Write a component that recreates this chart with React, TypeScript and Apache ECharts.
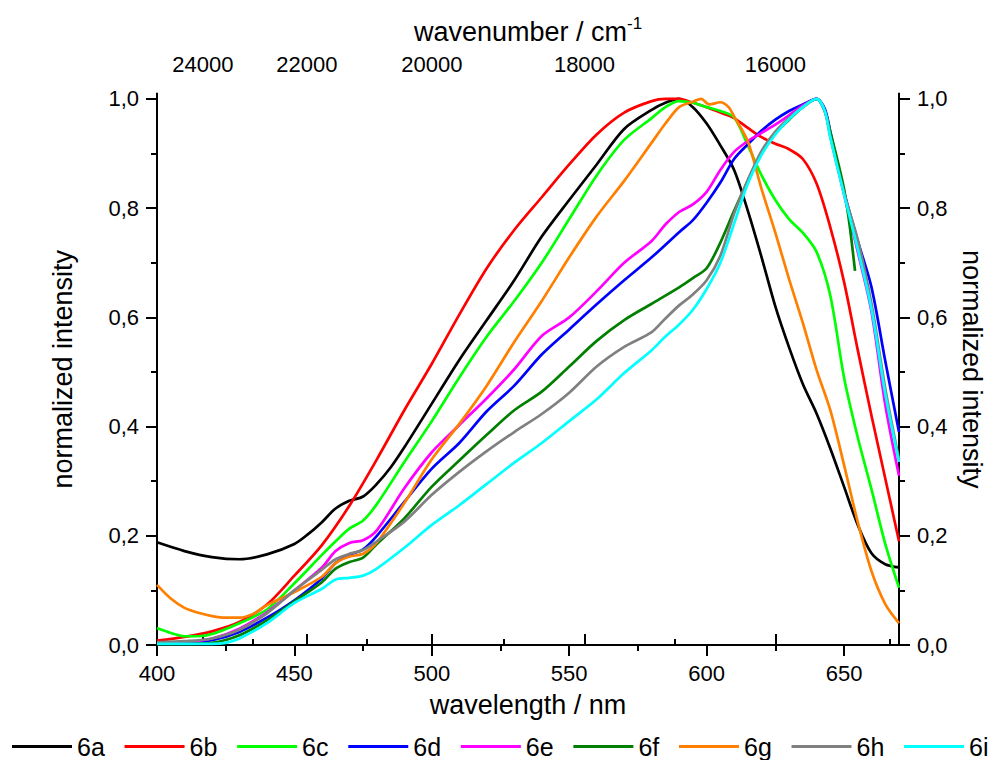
import React, { useEffect, useRef } from "react";
import * as echarts from "echarts";

// ---- data (wavelength in nm, normalized intensity) ----
const names = ["6a", "6b", "6c", "6d", "6e", "6f", "6g", "6h", "6i"];
const colors = ["#000000", "#ff0000", "#00ff00", "#0000ff", "#ff00ff", "#007f00", "#ff8000", "#808080", "#00ffff"];

const x6a = [400, 410, 420, 430, 440, 450, 455, 460, 465, 470, 475, 480, 485, 490, 500, 510, 520, 530, 540, 550, 560, 570, 580, 585, 590, 595, 600, 605, 610, 615, 620, 625, 630, 635, 640, 645, 650, 655, 660, 665, 670];
const y6a = [0.188, 0.172, 0.161, 0.157, 0.166, 0.185, 0.203, 0.225, 0.25, 0.264, 0.272, 0.295, 0.325, 0.362, 0.442, 0.522, 0.595, 0.668, 0.748, 0.815, 0.88, 0.945, 0.98, 0.993, 1.0, 0.985, 0.955, 0.915, 0.87, 0.795, 0.71, 0.62, 0.545, 0.478, 0.424, 0.36, 0.29, 0.22, 0.168, 0.148, 0.142];

const x6b = [400, 410, 420, 430, 440, 450, 460, 470, 480, 490, 500, 510, 520, 530, 540, 550, 560, 570, 580, 585, 590, 595, 600, 605, 610, 615, 620, 625, 630, 635, 640, 645, 650, 655, 660, 665, 670];
const y6b = [0.008, 0.015, 0.025, 0.042, 0.074, 0.127, 0.183, 0.255, 0.34, 0.43, 0.515, 0.605, 0.69, 0.76, 0.82, 0.88, 0.935, 0.975, 0.996, 1.0, 1.0, 0.993, 0.985, 0.975, 0.965, 0.947, 0.93, 0.918, 0.908, 0.89, 0.845, 0.765, 0.665, 0.54, 0.42, 0.305, 0.19];

const x6c = [400, 405, 410, 415, 420, 430, 440, 450, 460, 465, 470, 475, 480, 490, 500, 510, 520, 530, 540, 550, 560, 570, 580, 585, 590, 595, 600, 605, 610, 615, 620, 625, 630, 635, 640, 645, 650, 655, 660, 665, 670];
const y6c = [0.031, 0.022, 0.016, 0.016, 0.02, 0.04, 0.065, 0.113, 0.165, 0.19, 0.213, 0.228, 0.258, 0.335, 0.41, 0.49, 0.565, 0.63, 0.7, 0.78, 0.86, 0.925, 0.965, 0.985, 0.996, 0.993, 0.985, 0.978, 0.966, 0.915, 0.86, 0.815, 0.78, 0.755, 0.72, 0.64, 0.49, 0.38, 0.285, 0.185, 0.105];

const x6d = [400, 410, 420, 430, 440, 450, 460, 465, 470, 475, 480, 490, 500, 510, 520, 530, 540, 550, 560, 570, 580, 590, 595, 600, 605, 610, 615, 620, 625, 630, 635, 640, 643, 645, 650, 655, 660, 665, 670];
const y6d = [0.004, 0.005, 0.009, 0.024, 0.05, 0.082, 0.122, 0.15, 0.165, 0.175, 0.2, 0.262, 0.323, 0.37, 0.428, 0.475, 0.532, 0.578, 0.624, 0.668, 0.71, 0.756, 0.778, 0.81, 0.847, 0.89, 0.917, 0.942, 0.962, 0.978, 0.99, 1.0, 0.982, 0.94, 0.83, 0.74, 0.655, 0.52, 0.39];

const x6e = [400, 410, 420, 430, 440, 450, 460, 465, 470, 475, 480, 490, 500, 510, 520, 530, 540, 550, 560, 570, 580, 585, 590, 595, 600, 605, 610, 615, 620, 625, 630, 635, 640, 643, 645, 650, 655, 660, 665, 670];
const y6e = [0.003, 0.005, 0.012, 0.03, 0.06, 0.1, 0.142, 0.172, 0.187, 0.192, 0.21, 0.287, 0.353, 0.403, 0.452, 0.505, 0.566, 0.6, 0.648, 0.7, 0.74, 0.77, 0.793, 0.807, 0.83, 0.87, 0.903, 0.923, 0.938, 0.953, 0.97, 0.988, 1.0, 0.977, 0.935, 0.825, 0.72, 0.61, 0.44, 0.31];

const x6f = [400, 410, 420, 430, 440, 450, 460, 465, 470, 475, 480, 490, 500, 510, 520, 530, 540, 550, 560, 570, 580, 590, 595, 600, 605, 610, 615, 620, 625, 630, 635, 640, 643, 645, 648, 650, 652, 654];
const y6f = [0.002, 0.002, 0.004, 0.018, 0.045, 0.08, 0.115, 0.14, 0.152, 0.16, 0.185, 0.232, 0.29, 0.338, 0.385, 0.43, 0.464, 0.51, 0.557, 0.595, 0.625, 0.655, 0.672, 0.69, 0.737, 0.795, 0.85, 0.9, 0.937, 0.962, 0.985, 1.0, 0.978, 0.94, 0.88, 0.835, 0.77, 0.685];

const x6g = [400, 405, 410, 415, 420, 425, 430, 435, 440, 450, 460, 465, 470, 475, 480, 490, 500, 510, 520, 530, 540, 550, 560, 570, 580, 585, 590, 595, 598, 601, 605, 608, 610, 615, 620, 625, 630, 635, 640, 645, 650, 655, 660, 665, 670];
const y6g = [0.11, 0.085, 0.068, 0.059, 0.053, 0.05, 0.05, 0.057, 0.073, 0.097, 0.125, 0.15, 0.162, 0.167, 0.188, 0.26, 0.34, 0.405, 0.475, 0.555, 0.63, 0.71, 0.785, 0.85, 0.92, 0.955, 0.985, 0.995, 1.0, 0.99, 0.994, 0.985, 0.968, 0.922, 0.835, 0.755, 0.67, 0.59, 0.504, 0.43, 0.33, 0.225, 0.135, 0.075, 0.04];

const x6h = [400, 410, 420, 430, 440, 450, 460, 465, 470, 475, 480, 490, 500, 510, 520, 530, 540, 550, 560, 570, 580, 585, 590, 595, 600, 605, 610, 615, 620, 625, 630, 635, 640, 643, 645, 650, 655, 660, 665, 670];
const y6h = [0.005, 0.007, 0.012, 0.028, 0.058, 0.1, 0.138, 0.157, 0.167, 0.174, 0.19, 0.226, 0.275, 0.317, 0.355, 0.39, 0.423, 0.462, 0.51, 0.546, 0.573, 0.598, 0.622, 0.642, 0.668, 0.713, 0.79, 0.852, 0.905, 0.94, 0.965, 0.985, 1.0, 0.978, 0.93, 0.828, 0.742, 0.625, 0.47, 0.34];

const x6i = [400, 410, 420, 425, 430, 440, 450, 460, 465, 470, 475, 480, 490, 500, 510, 520, 530, 540, 550, 560, 570, 580, 585, 590, 595, 600, 605, 610, 615, 620, 625, 630, 635, 640, 643, 645, 650, 655, 660, 665, 670];
const y6i = [0.002, 0.002, 0.002, 0.004, 0.012, 0.04, 0.077, 0.103, 0.12, 0.123, 0.127, 0.14, 0.178, 0.22, 0.256, 0.295, 0.334, 0.37, 0.41, 0.45, 0.498, 0.54, 0.565, 0.587, 0.614, 0.652, 0.7, 0.772, 0.845, 0.898, 0.935, 0.963, 0.985, 1.0, 0.978, 0.93, 0.825, 0.725, 0.615, 0.46, 0.335];

const xs = [x6a, x6b, x6c, x6d, x6e, x6f, x6g, x6h, x6i];
const ys = [y6a, y6b, y6c, y6d, y6e, y6f, y6g, y6h, y6i];

// ---- tick values ----
const wlMajor = [400, 450, 500, 550, 600, 650];
const wlMinor = [425, 475, 525, 575, 625];
const wnMajor = [24000, 22000, 20000, 18000, 16000];
const wnMinor = [25000, 23000, 21000, 19000, 17000, 15000];
const yMajor = [0, 0.2, 0.4, 0.6, 0.8, 1.0];
const yMinor = [0.1, 0.3, 0.5, 0.7, 0.9];

const FONT = "'Liberation Sans', Arial, Helvetica, sans-serif";
const BLACK = "#000";

export default function App() {
  const ref = useRef<HTMLDivElement>(null);

  useEffect(() => {
    if (!ref.current) return;
    const chart = echarts.init(ref.current, null, { renderer: "svg" });

    const axisLine = { show: true, lineStyle: { color: BLACK, width: 2 } };
    const labelStyle = { color: BLACK, fontSize: 22, fontFamily: FONT };
    const nameStyle = { color: BLACK, fontSize: 27, fontFamily: FONT };
    const commaFmt = (v: number) => v.toFixed(1).replace(".", ",");
    const toWl = (w: number) => 1e7 / w;

    const xBase = { type: "value", min: 400, max: 670, splitLine: { show: false }, gridIndex: 0 };
    const yBase = { type: "value", min: 0, max: 1.01, splitLine: { show: false }, gridIndex: 0 };
    const tickStyle = { color: BLACK, width: 2 };

    const option: any = {
      animation: false,
      backgroundColor: "#fff",
      textStyle: { fontFamily: FONT },
      grid: { left: 157, right: 96, top: 93.5, bottom: 115, containLabel: false, outerBoundsMode: "none" },
      legend: {
        data: names,
        left: 12,
        top: 734,
        padding: 0,
        icon: "rect",
        itemWidth: 60,
        itemHeight: 3,
        itemGap: 19.75,
        textStyle: { color: BLACK, fontSize: 25, fontFamily: FONT },
      },
      xAxis: [
        {
          ...xBase,
          position: "bottom",
          axisLine,
          axisTick: { show: true, inside: false, length: 11, lineStyle: tickStyle, customValues: wlMajor },
          axisLabel: { ...labelStyle, margin: 17, customValues: wlMajor },
          name: "wavelength / nm",
          nameLocation: "middle",
          nameGap: 46,
          nameTextStyle: nameStyle,
        },
        {
          ...xBase,
          position: "top",
          axisLine,
          axisTick: { show: true, inside: false, length: 11, lineStyle: tickStyle, customValues: wnMajor.map(toWl) },
          axisLabel: {
            ...labelStyle,
            margin: 18,
            customValues: wnMajor.map(toWl),
            formatter: (v: number) => String(Math.round(1e7 / v)),
          },
          name: "{a|wavenumber / cm}{s|-1}",
          nameLocation: "middle",
          nameGap: 48,
          nameTextStyle: {
            ...nameStyle,
            rich: {
              a: { fontSize: 27, fontFamily: FONT, color: BLACK, verticalAlign: "bottom" },
              s: { fontSize: 17, fontFamily: FONT, color: BLACK, verticalAlign: "top", padding: [0, 0, 14, 0] },
            },
          },
        },
        {
          ...xBase,
          position: "top",
          axisLine: { show: false },
          axisTick: { show: true, inside: false, length: 6, lineStyle: tickStyle, customValues: wnMinor.map(toWl) },
          axisLabel: { show: false },
        },
        {
          ...xBase,
          position: "bottom",
          axisLine: { show: false },
          axisTick: { show: true, inside: false, length: 6, lineStyle: tickStyle, customValues: wlMinor },
          axisLabel: { show: false },
        },
      ],
      yAxis: [
        {
          ...yBase,
          position: "left",
          axisLine,
          axisTick: { show: true, inside: false, length: 11, lineStyle: tickStyle, customValues: yMajor },
          axisLabel: { ...labelStyle, margin: 18, customValues: yMajor, formatter: commaFmt },
          name: "normalized intensity",
          nameLocation: "middle",
          nameGap: 81,
          nameTextStyle: nameStyle,
        },
        {
          ...yBase,
          position: "right",
          axisLine,
          axisTick: { show: true, inside: false, length: 11, lineStyle: tickStyle, customValues: yMajor },
          axisLabel: { ...labelStyle, margin: 18, customValues: yMajor, formatter: commaFmt },
          name: "normalized intensity",
          nameLocation: "middle",
          nameRotate: -90,
          nameGap: 55,
          nameTextStyle: nameStyle,
        },
        {
          ...yBase,
          position: "left",
          axisLine: { show: false },
          axisTick: { show: true, inside: false, length: 6, lineStyle: tickStyle, customValues: yMinor },
          axisLabel: { show: false },
        },
        {
          ...yBase,
          position: "right",
          axisLine: { show: false },
          axisTick: { show: true, inside: false, length: 6, lineStyle: tickStyle, customValues: yMinor },
          axisLabel: { show: false },
        },
      ],
      series: names.map((n, i) => ({
        name: n,
        type: "line",
        xAxisIndex: 0,
        yAxisIndex: 0,
        data: xs[i].map((x, j) => [x, ys[i][j]]),
        showSymbol: false,
        symbol: "none",
        smooth: 0.3,
        color: colors[i],
        itemStyle: { color: colors[i] },
        lineStyle: { color: colors[i], width: 2.7 },
        clip: true,
        z: 2 + i,
      })),
    };

    chart.setOption(option);
    return () => chart.dispose();
  }, []);

  return (
    <div
      ref={ref}
      style={{ position: "fixed", left: 0, top: 0, width: 995, height: 760, background: "#fff" }}
    />
  );
}
